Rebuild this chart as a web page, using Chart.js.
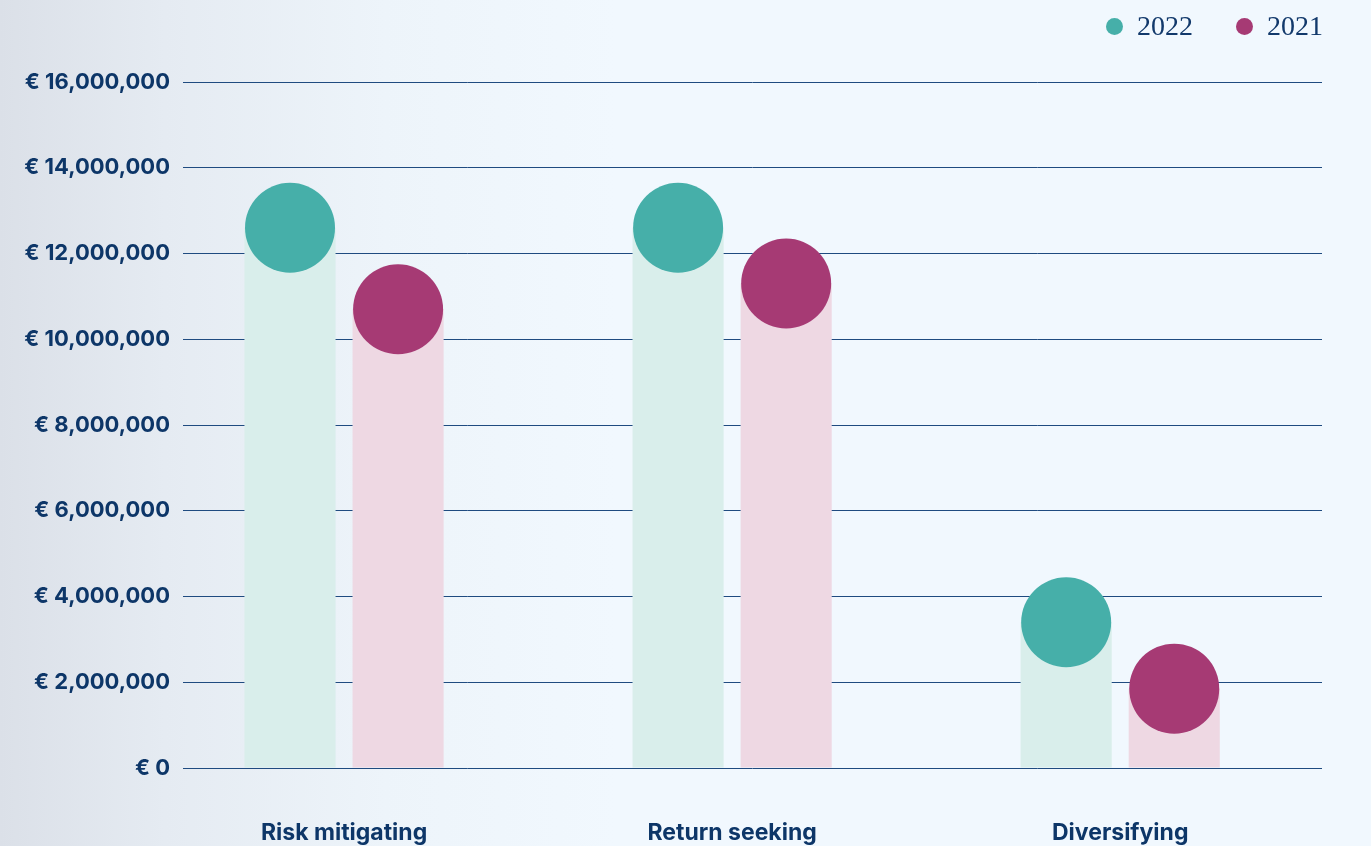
<!DOCTYPE html>
<html>
<head>
<meta charset="utf-8">
<script src="https://cdn.jsdelivr.net/npm/chart.js@4.4.1/dist/chart.umd.min.js"></script>
<style>
  html, body { margin: 0; padding: 0; }
  body {
    width: 1371px; height: 846px; overflow: hidden; position: relative;
    background: linear-gradient(to right, #dbe0e8 0%, #e5ebf2 12%, #edf4fa 28%, #f1f8fe 45%, #f1f8fe 100%);
  }
  #chart { position: absolute; left: 0; top: 0; }
  #legend {
    position: absolute; top: 12px; right: 48px; display: flex;
    font-family: "Liberation Serif", serif; font-size: 28px; line-height: 28px; color: #12396b;
  }
  #legend .item { display: flex; align-items: center; margin-left: 43px; }
  #legend .item:first-child { margin-left: 0; }
  #legend .dot { width: 17px; height: 17px; border-radius: 50%; margin-right: 14px; }
</style>
</head>
<body>
<canvas id="chart" width="1371" height="846"></canvas>
<div id="legend"></div>
<script>
var categories = ['Risk mitigating', 'Return seeking', 'Diversifying'];
var values2022 = [12600000, 12600000, 3400000];
var values2021 = [10700000, 11300000, 1850000];
var yTicks = [0, 2000000, 4000000, 6000000, 8000000, 10000000, 12000000, 14000000, 16000000];

var navy = '#0d3668';
var yFont = { family: 'Inter', size: 22, weight: '700' };
var xFont = { family: 'Inter', size: 23, weight: '700' };

function points(values) {
  return values.map(function (v, i) { return { x: i, y: v }; });
}

// big round markers sitting on top of every bar
var dotPlugin = {
  id: 'dots',
  afterDatasetsDraw: function (chart) {
    var ctx = chart.ctx;
    chart.data.datasets.forEach(function (ds, i) {
      var meta = chart.getDatasetMeta(i);
      meta.data.forEach(function (bar) {
        ctx.save();
        ctx.beginPath();
        ctx.arc(bar.x, bar.y, 45, 0, Math.PI * 2);
        ctx.fillStyle = ds.dotColor;
        ctx.fill();
        ctx.restore();
      });
    });
  }
};

var chart = new Chart(document.getElementById('chart'), {
  type: 'bar',
  data: {
    datasets: [
      {
        label: '2022',
        data: points(values2022),
        backgroundColor: '#d9eeeb',
        dotColor: '#46afa9'
      },
      {
        label: '2021',
        data: points(values2021),
        backgroundColor: '#eed8e3',
        dotColor: '#a63a74'
      }
    ]
  },
  options: {
    responsive: false,
    animation: false,
    layout: { padding: { top: 82, right: 49, bottom: 0, left: 0 } },
    categoryPercentage: 0.557,
    barPercentage: 0.843,
    plugins: {
      legend: { display: false },
      tooltip: { enabled: false }
    },
    scales: {
      x: {
        type: 'linear',
        offset: false,
        min: -0.415,
        max: 2.52,
        grid: { display: false },
        border: { display: false },
        afterFit: function (scale) { scale.height = 78; },
        ticks: {
          stepSize: 1,
          includeBounds: false,
          autoSkip: false,
          maxRotation: 0,
          padding: 43,
          color: navy,
          font: xFont,
          callback: function (v) { return categories[v] || ''; }
        }
      },
      y: {
        min: yTicks[0],
        max: yTicks[yTicks.length - 1],
        afterFit: function (scale) { scale.width = 183; },
        afterBuildTicks: function (scale) {
          scale.ticks = yTicks.map(function (v) { return { value: v }; });
        },
        grid: { color: '#1f4b80', lineWidth: 1, drawTicks: false },
        border: { display: false },
        ticks: {
          padding: 13,
          color: navy,
          font: yFont,
          callback: function (v) { return '\u20ac ' + v.toLocaleString('en-US'); }
        }
      }
    }
  },
  plugins: [dotPlugin]
});

// html legend built from the datasets
var legend = document.getElementById('legend');
chart.data.datasets.forEach(function (ds) {
  var item = document.createElement('div');
  item.className = 'item';
  var dot = document.createElement('span');
  dot.className = 'dot';
  dot.style.background = ds.dotColor;
  var txt = document.createElement('span');
  txt.textContent = ds.label;
  item.appendChild(dot);
  item.appendChild(txt);
  legend.appendChild(item);
});
</script>
</body>
</html>
